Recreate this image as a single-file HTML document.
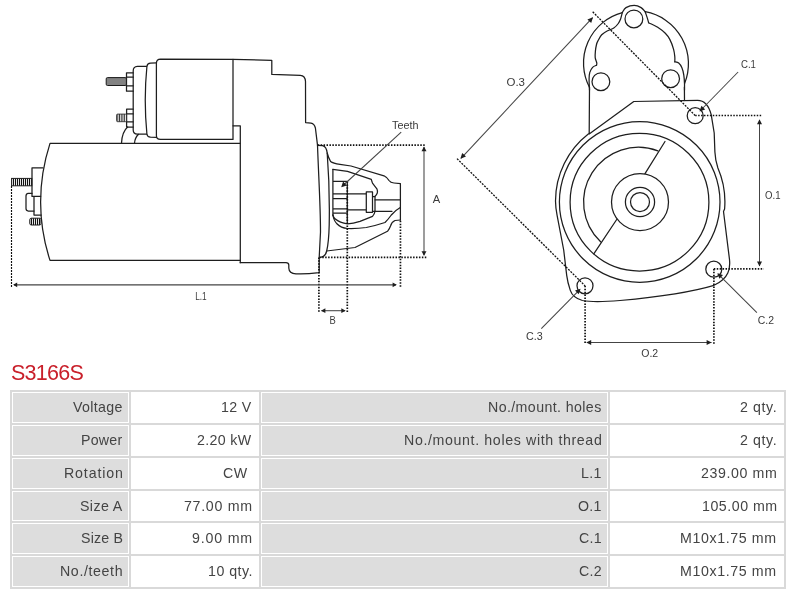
<!DOCTYPE html>
<html><head><meta charset="utf-8"><title>S3166S</title>
<style>
html,body{margin:0;padding:0;background:#fff;}
body{width:800px;height:594px;position:relative;overflow:hidden;font-family:"Liberation Sans",sans-serif;}
#dr{position:absolute;left:0;top:0;width:800px;height:362px;will-change:transform;}
.c span,#title{will-change:transform;}
#title{position:absolute;left:11px;top:360px;font-size:21.5px;line-height:26px;color:#c9202b;letter-spacing:-0.75px;white-space:nowrap;}
#tb{position:absolute;left:10px;top:390px;width:776px;height:199px;background:#d9d9d9;}
.c{position:absolute;box-sizing:border-box;border:1px solid #d9d9d9;background:#fff;color:#444;font-size:14.2px;white-space:nowrap;}
.c.l{background:#dddddd;box-shadow:inset 0 0 0 1px #fff;}
.c span{position:absolute;top:0;line-height:31px;height:31px;}
</style></head><body>
<div id="dr">
<svg width="800" height="362" viewBox="0 0 800 362">
<defs>
<pattern id="th" x="1" y="0" width="2" height="4" patternUnits="userSpaceOnUse"><rect width="2" height="4" fill="#fff"/><rect width="1.1" height="4" fill="#111"/></pattern>
<pattern id="th2" x="0.1" width="1.7" height="4" patternUnits="userSpaceOnUse"><rect width="1.7" height="4" fill="#e8e8e8"/><rect width="0.8" height="4" fill="#2a2a2a"/></pattern>
</defs>
<g fill="none" stroke="#1e1e1e" stroke-width="1.25" stroke-linejoin="round" stroke-linecap="round">
<!-- ===== SIDE VIEW ===== -->
<!-- motor body -->
<path d="M240,143.4 L50,143.4 Q31.2,201.9 50,260.4 L240,260.4"/>
<path d="M233,125.8 L240.3,125.8 L240.3,262.7"/>
<!-- housing -->
<path d="M233,59.4 L271.8,60.4 L271.8,74.4 L300.3,75.4 Q305.2,75.7 305.5,81.5 L305.6,122.6 L311,123.1 Q314.4,123.6 315.4,128 L317.5,145.1 C318.5,175 320.5,205 320.5,232 L319.2,257.4 L319.2,272.7 Q305,274.3 296,273.8 Q289,273.5 288.8,268 L288.8,265 Q288.6,262.7 286,262.7 L240.2,262.7"/>
<!-- solenoid main -->
<path d="M233,59.4 L160.5,59.2 Q156.4,59.3 156.4,63.5 L156.4,135.5 Q156.4,139.4 160.5,139.4 L233,139.4 L233,59.4"/>
<path d="M156.4,62.8 L150.5,63.1 Q147.3,63.3 146.9,66.5 Q143.6,100 146.9,134 Q147.3,137 150.5,137.2 L156.4,137.4"/>
<path d="M146.6,66.3 L137.4,66.3 Q133.2,66.5 133.2,71 L133.2,130 Q133.2,134 137.4,134.2 L146.6,134.2"/>
<!-- nuts -->
<path d="M133.2,72.8 L126.5,72.8 L126.5,91.2 L133.2,91.2 M126.5,77.2 L133.2,77.2 M126.5,85.8 L133.2,85.8"/>
<path d="M133.2,109.2 L126.6,109.2 L126.6,127 L133.2,127 M126.6,113.9 L133.2,113.9 M126.6,121.8 L133.2,121.8"/>
<!-- bracket arcs -->
<path d="M121.5,143.2 Q122,132 127.6,127"/>
<path d="M134.5,143.2 Q135,137.5 138.5,134.3"/>
<!-- left end parts -->
<path d="M43,167.8 L32,167.8 L32,196.4 L40.6,196.4 M34,196.4 L34,215 L41.2,215"/>
<path d="M32,193.4 L28.3,193.4 Q26,193.6 26,196 L26,208.6 Q26,211 28.3,211 L34,211"/>
<!-- flange second curve -->
<path d="M317.5,145.4 L322.5,145.6 Q326.5,146.5 327.2,153 C328.5,170 329.8,195 329.2,225 Q328.8,242 326.7,251 Q325.5,256.8 320.5,257.3"/>
<!-- nose upper -->
<path d="M327.2,153 Q328.5,158 330.6,161.5 Q333,163.5 340,164.3 L351,166 L384,175.8 Q387.5,177.5 389,180.5 Q390.5,182.8 394,183 L400.4,183.6 L400.4,220"/>
<!-- nose inner upper -->
<path d="M332.9,169.4 L347.5,171.3 L371.3,179.4 Q372,182 372.5,183.1 Q375,186.5 376.9,188.8 Q377.8,191 377.3,193.1 Q376.5,195 375,196.3 L375,211.3"/>
<!-- pinion -->
<path d="M332.9,169.4 L332.9,215 M332.9,181.3 L347.3,181.3 M332.9,193.8 L347.3,193.8 M332.9,198.5 L347.3,198.5 M332.9,208.8 L347.3,208.8 M332.9,213.1 L347.3,213.1 M347.3,181.3 L347.3,222.5"/>
<!-- shaft -->
<path d="M347.3,193.8 L366.3,193.8 M347.3,209.8 L366.3,209.8 M366.3,191.9 L372.5,191.9 L372.5,212.3 L366.3,212.3 Z M375,199.8 L400.3,199.8 M372.5,211.3 L392,211.3 M372.5,196.5 L375,196.5"/>
<!-- nose lower curves -->
<path d="M332.9,215 Q333.5,217.5 335,218.8 Q340,223 347.5,223.8 Q353,223.5 360,221.3 L372.5,216.3 Q374.5,214 375,211.3"/>
<path d="M332.9,215 Q334,221 336.9,223.8 Q341,228 347.5,228.5 Q357,228.8 366.3,227.5 Q376,225.5 385,222.5 Q388.5,219 391.3,215 Q395,210.5 400.3,207.5"/>
<path d="M326.7,251 L355,247.5 L387.5,231.3 Q389.5,229 390.5,226 Q391.5,222 395,220.5 L400.4,220"/>
<!-- ===== REAR VIEW ===== -->
<circle cx="640" cy="202" r="9.5"/>
<circle cx="640" cy="202" r="14.6"/>
<circle cx="640" cy="202" r="28.5"/>
<ellipse cx="639.5" cy="202.2" rx="69.4" ry="68.8"/>
<ellipse cx="639.7" cy="202" rx="80.3" ry="80.3"/>
<path d="M657.9,150.9 A54.8,54.8 0 0 0 600.6,241.8"/>
<path d="M665,141.5 L645,173.7 M616.7,219.5 L593.8,253.8"/>
<!-- bracket / flange -->
<path d="M589.5,87 L589.2,134 L633.8,101.5 L697.6,100.3 Q707.5,100.3 711.2,114.7 L714.2,133 L714.9,152 Q715.3,160.5 717.9,168 A85.4,85.4 0 0 1 724.6,209 L723.5,211.5 L729.5,259.5 Q730.3,268 727.8,273 Q724.5,280.5 714,285.3 C700,289.5 668,296 620,300.5 C605,301.8 590,302 582.4,300.5 C575,298.5 571.5,294 570.3,290.4 C568.5,285 567.3,280 566.7,275.3 L563.7,250 L557.1,215.3 Q555.6,208 555.5,201 A85.3,85.3 0 0 1 588.6,133.8"/>
<path d="M684.4,87 L684.5,100.5"/>
<!-- holes -->
<circle cx="695.2" cy="115.7" r="8"/>
<circle cx="713.8" cy="269.2" r="8"/>
<circle cx="585" cy="285.8" r="8"/>
<!-- solenoid rear top -->
<circle cx="633.9" cy="18.9" r="8.9"/>
<circle cx="600.9" cy="81.7" r="8.9"/>
<circle cx="670.6" cy="78.7" r="8.9"/>
<path d="M589.4,87.2 A52.3,52.3 0 0 1 622.3,12.6"/><path d="M622.3,12.6 C622.9,11.8 624.0,8.8 626.0,7.6 C628.0,6.4 631.7,5.3 634.2,5.3 C636.7,5.3 639.3,6.5 641.1,7.6 C642.9,8.7 644.5,11.0 645.2,11.7"/><path d="M645.2,11.7 A52.9,52.9 0 0 1 684.6,83.5"/>
<path d="M589.5,90.0 C589.5,89.5 589.5,89.0 589.4,87.2 C589.3,85.4 589.0,81.4 589.1,78.9 C589.2,76.4 589.2,74.3 589.8,72.4 C590.4,70.5 591.5,68.5 592.6,67.3 C593.7,66.1 595.9,65.5 596.5,65.2"/><path d="M596.5,65.2 C596.5,64.9 597.0,64.4 596.8,63.1 C596.6,61.8 595.4,59.6 595.2,57.6 C595.0,55.6 595.2,53.2 595.4,51.1 C595.6,49.0 596.0,46.7 596.4,45.0 C596.8,43.3 597.0,42.6 597.9,40.9 C598.8,39.2 600.1,36.5 601.7,34.8 C603.3,33.1 605.7,31.8 607.7,30.7 C609.7,29.6 612.0,29.2 613.8,28.0 C615.6,26.8 617.2,25.0 618.3,23.5 C619.4,22.0 619.9,20.7 620.6,18.9 C621.3,17.1 622.0,13.6 622.3,12.6"/>
<path d="M645.2,11.7 C645.5,12.6 646.5,15.6 647.1,17.4 C647.7,19.2 648.4,21.8 648.6,22.7"/><path d="M648.6,22.7 C650.1,23.5 654.9,25.5 657.7,27.3 C660.5,29.1 663.3,31.3 665.3,33.3 C667.3,35.3 668.4,36.7 669.8,39.4 C671.2,42.1 672.8,46.4 673.6,49.3 C674.4,52.2 674.6,54.6 674.8,56.7 C675.0,58.8 674.8,60.9 674.8,61.8"/><path d="M674.8,61.8 C675.4,62.0 677.5,62.1 678.7,63.1 C679.9,64.1 681.0,65.8 681.9,67.8 C682.8,69.8 683.4,72.6 683.8,75.2 C684.2,77.8 684.4,81.0 684.5,83.5 C684.6,86.0 684.5,88.9 684.5,90.0"/>
</g>
<!-- threads -->
<g stroke="#1e1e1e" stroke-width="1">
<rect x="106.2" y="77.6" width="20.2" height="7.9" rx="1.3" fill="#828282" stroke="#1a1a1a"/>
<rect x="116.6" y="114.1" width="9.9" height="7.6" rx="1" fill="url(#th2)" stroke="#333" stroke-width="0.9"/>
<rect x="11.6" y="178.4" width="20.2" height="7.4" fill="url(#th)"/>
<rect x="29.8" y="218.2" width="11.2" height="6.8" rx="1.5" fill="url(#th)"/>
</g>
<!-- ===== DIMENSIONS ===== -->
<g fill="none" stroke="#111" stroke-width="1.7" stroke-dasharray="1.5 1.43">
<path d="M424.7,145.1 L317.5,145.1"/>
<path d="M426.3,257.4 L319,257.4"/>
<path d="M318.9,257.4 L318.9,312.1"/>
<path d="M347.3,181.5 L347.3,312.1"/>
<path d="M400.45,286.7 L400.45,220"/>
<path d="M695.2,115.5 L762.6,115.5"/>
<path d="M713.8,268.9 L763.8,268.9"/>
<path d="M585.1,285.8 L585.1,344.4"/>
<path d="M713.9,268.9 L713.9,344.4"/>
</g>
<g fill="none" stroke="#111" stroke-width="1.15" stroke-dasharray="2.1 0.9">
<path d="M11.5,287 L11.5,186"/>
</g>
<g fill="none" stroke="#111" stroke-width="1.3" stroke-dasharray="2 1.2">
<path d="M592.7,11.8 L695.2,115.6"/>
<path d="M457,158.6 L585,285.8"/>
</g>
<g fill="none" stroke="#444" stroke-width="1.05">
<path d="M14,284.85 L396,284.85"/>
<path d="M424,147 L424,255.3"/>
<path d="M321.5,310.7 L345,310.7"/>
<path d="M759.5,120 L759.5,266"/>
<path d="M587,342.45 L711.5,342.45"/>
<path d="M461,158.3 L592.6,17.6"/>
<path d="M401.2,132.2 L342.5,186"/>
<path d="M738.1,72 L700,111"/>
<path d="M756.9,312.6 L718,273.8"/>
<path d="M541.3,328.7 L579.5,289.8"/>
</g>
<g fill="#1e1e1e" stroke="none">
<!-- L1 arrowheads -->
<path d="M13.1,284.85 L17.2,282.5 L17.2,287.2 Z"/>
<path d="M396.8,284.85 L392.6,282.5 L392.6,287.2 Z"/>
<!-- A -->
<path d="M424,146.6 L421.5,151.2 L426.5,151.2 Z"/>
<path d="M424,255.8 L421.5,251.2 L426.5,251.2 Z"/>
<!-- B -->
<path d="M321,310.7 L325.4,308.3 L325.4,313.1 Z"/>
<path d="M345.7,310.7 L341.3,308.3 L341.3,313.1 Z"/>
<!-- O1 -->
<path d="M759.5,119.3 L757,124.3 L762,124.3 Z"/>
<path d="M759.5,266.4 L757,261.4 L762,261.4 Z"/>
<!-- O2 -->
<path d="M586.2,342.45 L591.2,339.9 L591.2,345 Z"/>
<path d="M711.6,342.45 L706.6,339.9 L706.6,345 Z"/>
<!-- O3 -->
<path d="M593,17.2 L591.2,23 L587.4,19.4 Z"/>
<path d="M460.4,158.8 L462.2,153 L466,156.6 Z"/>
<!-- teeth -->
<path d="M341.2,187.2 L343.1,181.5 L346.8,185.5 Z"/>
<!-- C1 -->
<path d="M699.5,111.5 L701.4,105.8 L705.2,109.6 Z"/>
<!-- C2 -->
<path d="M717.3,273.2 L723,275 L719.4,278.8 Z"/>
<!-- C3 -->
<path d="M580.6,288.7 L578.7,294.2 L575,290.4 Z"/>
</g>
<g font-family="Liberation Sans, sans-serif" fill="#3a3a3a" stroke="none"><text x="195.20" y="299.50" font-size="11.20" textLength="11.52" lengthAdjust="spacingAndGlyphs">L.1</text><text x="391.98" y="128.74" font-size="11.20" textLength="26.48" lengthAdjust="spacingAndGlyphs">Teeth</text><text x="506.46" y="85.74" font-size="11.20" textLength="18.52" lengthAdjust="spacingAndGlyphs">O.3</text><text x="432.74" y="203.24" font-size="11.20" textLength="7.46" lengthAdjust="spacingAndGlyphs">A</text><text x="329.44" y="324.02" font-size="11.20" textLength="6.28" lengthAdjust="spacingAndGlyphs">B</text><text x="765.00" y="199.48" font-size="11.20" textLength="15.48" lengthAdjust="spacingAndGlyphs">O.1</text><text x="641.24" y="357.00" font-size="11.20" textLength="16.96" lengthAdjust="spacingAndGlyphs">O.2</text><text x="741.00" y="67.74" font-size="11.20" textLength="14.98" lengthAdjust="spacingAndGlyphs">C.1</text><text x="757.74" y="324.00" font-size="11.20" textLength="16.24" lengthAdjust="spacingAndGlyphs">C.2</text><text x="526.00" y="339.98" font-size="11.20" textLength="16.70" lengthAdjust="spacingAndGlyphs">C.3</text></g>
</svg>

</div>
<div id="title">S3166S</div>
<div id="tb"></div>
<div class="c l" style="left:11px;top:391px;width:119px;height:33px"><span style="right:6.00px;letter-spacing:0.333px;line-height:31px">Voltage</span></div>
<div class="c v" style="left:130px;top:391px;width:130px;height:33px"><span style="right:7.20px;letter-spacing:0.333px;line-height:31px">12 V</span></div>
<div class="c l" style="left:260px;top:391px;width:349px;height:33px"><span style="right:6.20px;letter-spacing:0.400px;line-height:31px">No./mount. holes</span></div>
<div class="c v" style="left:609px;top:391px;width:176px;height:33px"><span style="right:6.80px;letter-spacing:0.600px;line-height:31px">2 qty.</span></div>
<div class="c l" style="left:11px;top:424px;width:119px;height:33px"><span style="right:7.00px;letter-spacing:0.250px;line-height:31px">Power</span></div>
<div class="c v" style="left:130px;top:424px;width:130px;height:33px"><span style="right:7.20px;letter-spacing:0.333px;line-height:31px">2.20 kW</span></div>
<div class="c l" style="left:260px;top:424px;width:349px;height:33px"><span style="right:5.20px;letter-spacing:0.637px;line-height:31px">No./mount. holes with thread</span></div>
<div class="c v" style="left:609px;top:424px;width:176px;height:33px"><span style="right:6.80px;letter-spacing:0.600px;line-height:31px">2 qty.</span></div>
<div class="c l" style="left:11px;top:457px;width:119px;height:33px"><span style="right:5.00px;letter-spacing:0.857px;line-height:31px">Rotation</span></div>
<div class="c v" style="left:130px;top:457px;width:130px;height:33px"><span style="right:11.60px;letter-spacing:0.600px;line-height:31px">CW</span></div>
<div class="c l" style="left:260px;top:457px;width:349px;height:33px"><span style="right:6.00px;letter-spacing:0.300px;line-height:31px">L.1</span></div>
<div class="c v" style="left:609px;top:457px;width:176px;height:33px"><span style="right:6.80px;letter-spacing:0.600px;line-height:31px">239.00 mm</span></div>
<div class="c l" style="left:11px;top:490px;width:119px;height:32px"><span style="right:6.00px;letter-spacing:0.400px;line-height:30px">Size A</span></div>
<div class="c v" style="left:130px;top:490px;width:130px;height:32px"><span style="right:6.20px;letter-spacing:0.714px;line-height:30px">77.00 mm</span></div>
<div class="c l" style="left:260px;top:490px;width:349px;height:32px"><span style="right:6.00px;letter-spacing:0.300px;line-height:30px">O.1</span></div>
<div class="c v" style="left:609px;top:490px;width:176px;height:32px"><span style="right:6.80px;letter-spacing:0.525px;line-height:30px">105.00 mm</span></div>
<div class="c l" style="left:11px;top:522px;width:119px;height:33px"><span style="right:6.00px;letter-spacing:0.200px;line-height:31px">Size B</span></div>
<div class="c v" style="left:130px;top:522px;width:130px;height:33px"><span style="right:6.20px;letter-spacing:0.833px;line-height:31px">9.00 mm</span></div>
<div class="c l" style="left:260px;top:522px;width:349px;height:33px"><span style="right:6.00px;letter-spacing:0.300px;line-height:31px">C.1</span></div>
<div class="c v" style="left:609px;top:522px;width:176px;height:33px"><span style="right:6.80px;letter-spacing:0.620px;line-height:31px">M10x1.75 mm</span></div>
<div class="c l" style="left:11px;top:555px;width:119px;height:33px"><span style="right:6.00px;letter-spacing:0.625px;line-height:31px">No./teeth</span></div>
<div class="c v" style="left:130px;top:555px;width:130px;height:33px"><span style="right:6.20px;letter-spacing:0.500px;line-height:31px">10 qty.</span></div>
<div class="c l" style="left:260px;top:555px;width:349px;height:33px"><span style="right:6.00px;letter-spacing:0.300px;line-height:31px">C.2</span></div>
<div class="c v" style="left:609px;top:555px;width:176px;height:33px"><span style="right:6.80px;letter-spacing:0.620px;line-height:31px">M10x1.75 mm</span></div>
</body></html>
